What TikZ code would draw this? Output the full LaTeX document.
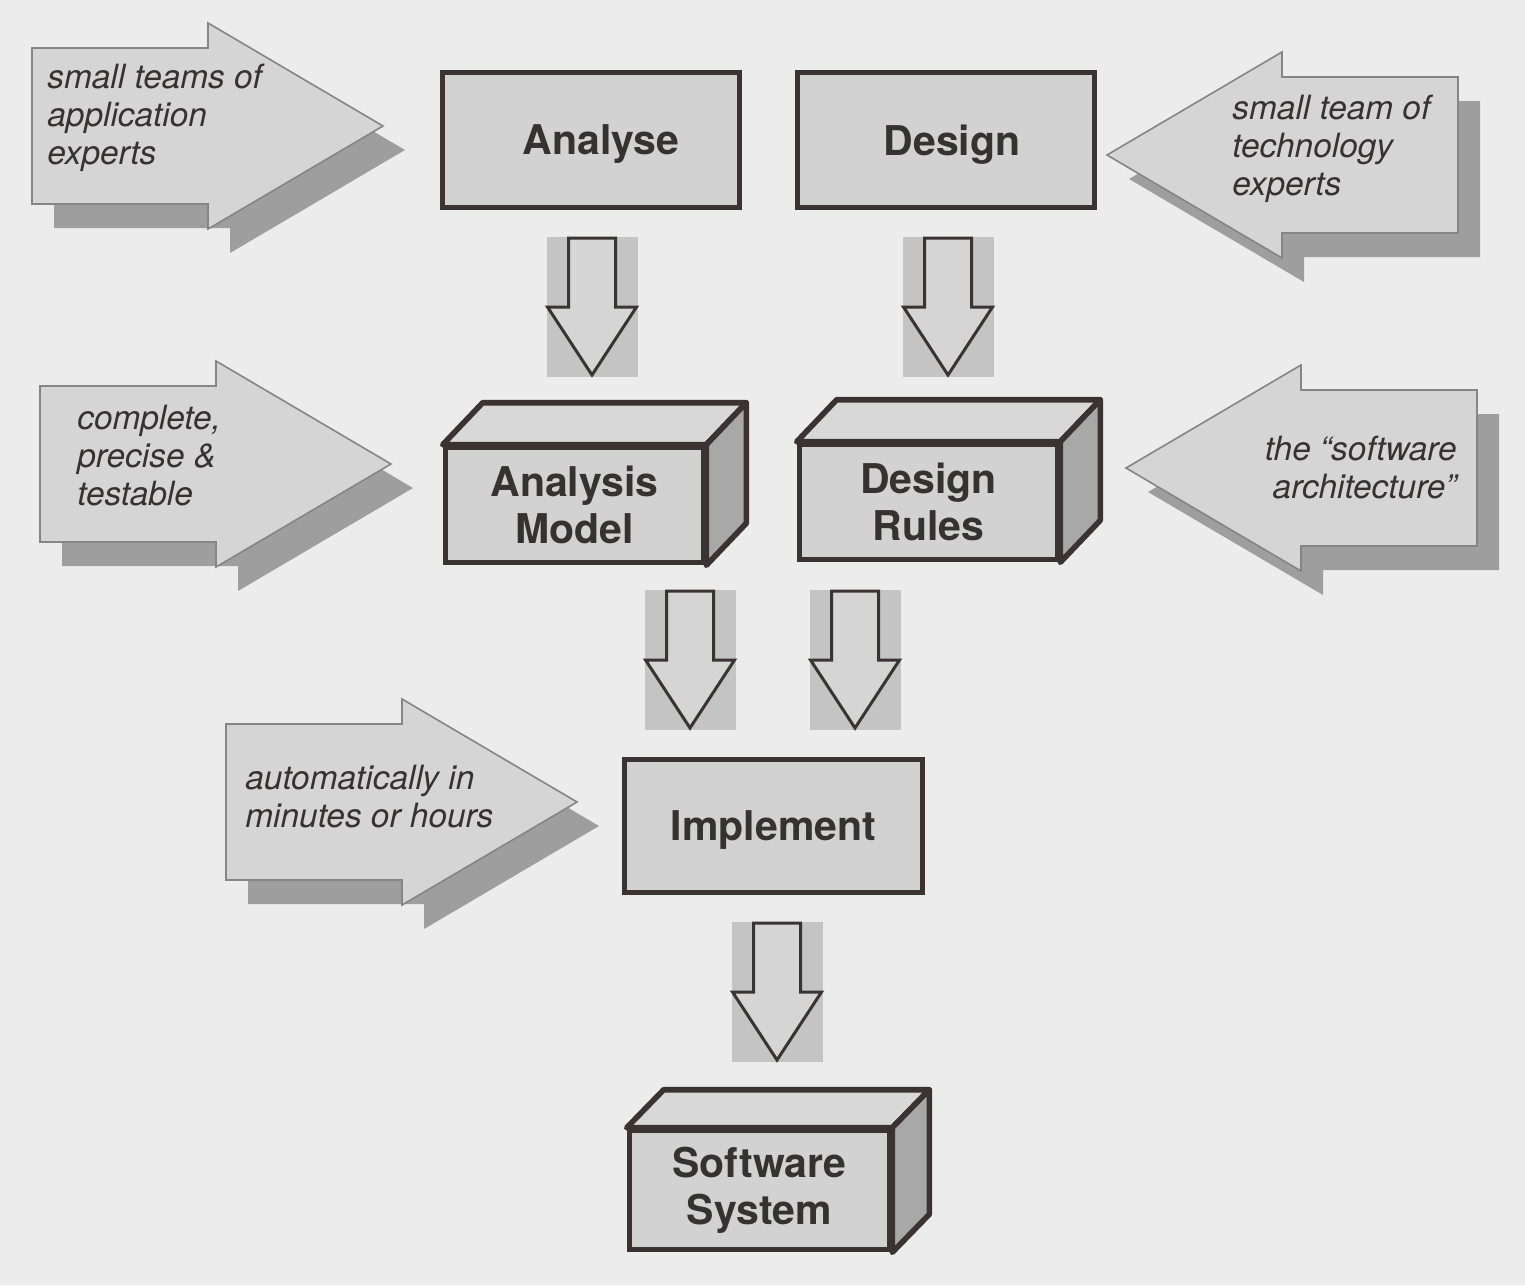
\documentclass[tikz,border=0pt]{standalone}
\usepackage{fontspec}
\newfontfamily\hv{TeX Gyre Heros}
\usetikzlibrary{calc}
\definecolor{bg}{HTML}{ECECEC}
\definecolor{arrowfill}{HTML}{D5D5D5}
\definecolor{shadowc}{HTML}{9E9E9E}
\definecolor{arrowline}{HTML}{858585}
\definecolor{ink}{HTML}{3A3331}
\definecolor{boxfill}{HTML}{D2D2D2}
\definecolor{sidefill}{HTML}{A8A8A8}
\definecolor{topfill}{HTML}{D8D8D8}
\definecolor{backrect}{HTML}{C4C4C4}
\definecolor{txt}{HTML}{363232}
\tikzset{
  bigarrow/.style={fill=arrowfill, draw=arrowline, line width=0.8pt, line join=miter},
  bigshadow/.style={fill=shadowc},
  flowbox/.style={rectangle, draw=ink, line width=2.8pt, fill=boxfill,
    minimum width=148.5pt, minimum height=67.5pt, inner sep=0pt,
    font=\hv\bfseries\fontsize{20.5}{23.5}\selectfont, text=txt, align=center},
  onelinebox/.style={flowbox, text depth=0pt},
  frontface/.style={flowbox, minimum width=129pt, minimum height=57.5pt},
  topface/.style={draw=ink, line width=2.8pt, fill=topfill, line join=round},
  sideface/.style={draw=ink, line width=2.8pt, fill=sidefill, line join=round},
  notetext/.style={font=\hv\itshape\fontsize{16.7}{19}\selectfont, text=txt, inner sep=0pt},
  flowarrow/.style={draw=ink, line width=1.5pt, fill=arrowfill, line join=miter},
  flowback/.style={fill=backrect},
}
% right-pointing big arrow: #1 body left, #2 centre y, #3 style
\newcommand\ArrowRt[3]{%
  \path[#3] (#1,#2-78) -- (#1+176,#2-78) -- (#1+176,#2-103) -- (#1+351,#2)
    -- (#1+176,#2+103) -- (#1+176,#2+78) -- (#1,#2+78) -- cycle;}
% left-pointing big arrow: #1 body right, #2 centre y, #3 style
\newcommand\ArrowLf[3]{%
  \path[#3] (#1,#2-78) -- (#1-176,#2-78) -- (#1-176,#2-103) -- (#1-351,#2)
    -- (#1-176,#2+103) -- (#1-176,#2+78) -- (#1,#2+78) -- cycle;}
% small block arrow pointing down: #1 centre x, #2 top y
\newcommand\DownBlock[2]{%
  \path[flowback] (#1-45.5,#2) rectangle (#1+45.5,#2+140);
  \path[flowarrow] (#1-23.5,#2+1) -- (#1+23.5,#2+1) -- (#1+23.5,#2+70) -- (#1+44.5,#2+70)
    -- (#1,#2+138) -- (#1-44.5,#2+70) -- (#1-23.5,#2+70) -- cycle;}
% 3D faces of a box: #1 node name, #2 depth x, #3 depth y
\newcommand\BoxFaces[3]{%
  \path[topface] (#1.north west) -- ++(#2,-#3) -- ($(#1.north east)+(#2,-#3)$) -- (#1.north east) -- cycle;
  \path[sideface] (#1.north east) -- ++(#2,-#3) -- ($(#1.south east)+(#2,-#3)$) -- (#1.south east) -- cycle;}
\begin{document}
\begin{tikzpicture}[x=0.5pt,y=-0.5pt]
\useasboundingbox (0,0) rectangle (1525,1285);
\fill[bg] (0,0) rectangle (1525,1285);

% big input arrows (shadow first)
\ArrowRt{54}{150}{bigshadow}
\ArrowRt{32}{126}{bigarrow}
\ArrowRt{62}{488}{bigshadow}
\ArrowRt{40}{464}{bigarrow}
\ArrowRt{248}{826}{bigshadow}
\ArrowRt{226}{802}{bigarrow}
\ArrowLf{1480}{179}{bigshadow}
\ArrowLf{1458}{155}{bigarrow}
\ArrowLf{1499}{492}{bigshadow}
\ArrowLf{1477}{468}{bigarrow}

\node[notetext, anchor=west, align=left] (n1) at (47,118) {small teams of\\application\\experts};
\node[notetext, anchor=west, align=left] (n2) at (77,456) {complete,\\precise \&\\testable};
\node[notetext, anchor=west, align=left] (n3) at (245,797) {automatically in\\minutes or hours};
\node[notetext, anchor=west, align=left] (n4) at (1232,149) {small team of\\technology\\experts};
\node[notetext, anchor=east, align=right] (n5) at (1457,468) {the “software\\architecture”};

% process boxes
\node[onelinebox] (analyse) at (591,140) {\hspace*{10pt}Analyse};
\node[onelinebox] (design) at (946,140) {\hspace*{6pt}Design};
\node[onelinebox, minimum width=149pt, minimum height=66.5pt] (implement) at (773.5,826) {Implement};

% 3D artefact boxes
\node[frontface] (amodel) at (574.5,505) {Analysis\\Model};
\BoxFaces{amodel}{40}{42}
\node[frontface] (drules) at (928.5,502) {Design\\Rules};
\BoxFaces{drules}{40}{42}
\node[frontface, minimum width=130pt, minimum height=59.5pt] (softsys) at (759.5,1190) {Software\\System};
\BoxFaces{softsys}{37}{38}

% flow arrows
\DownBlock{592}{237}
\DownBlock{948}{237}
\DownBlock{690}{590}
\DownBlock{855}{590}
\DownBlock{777}{922}
\end{tikzpicture}
\end{document}
